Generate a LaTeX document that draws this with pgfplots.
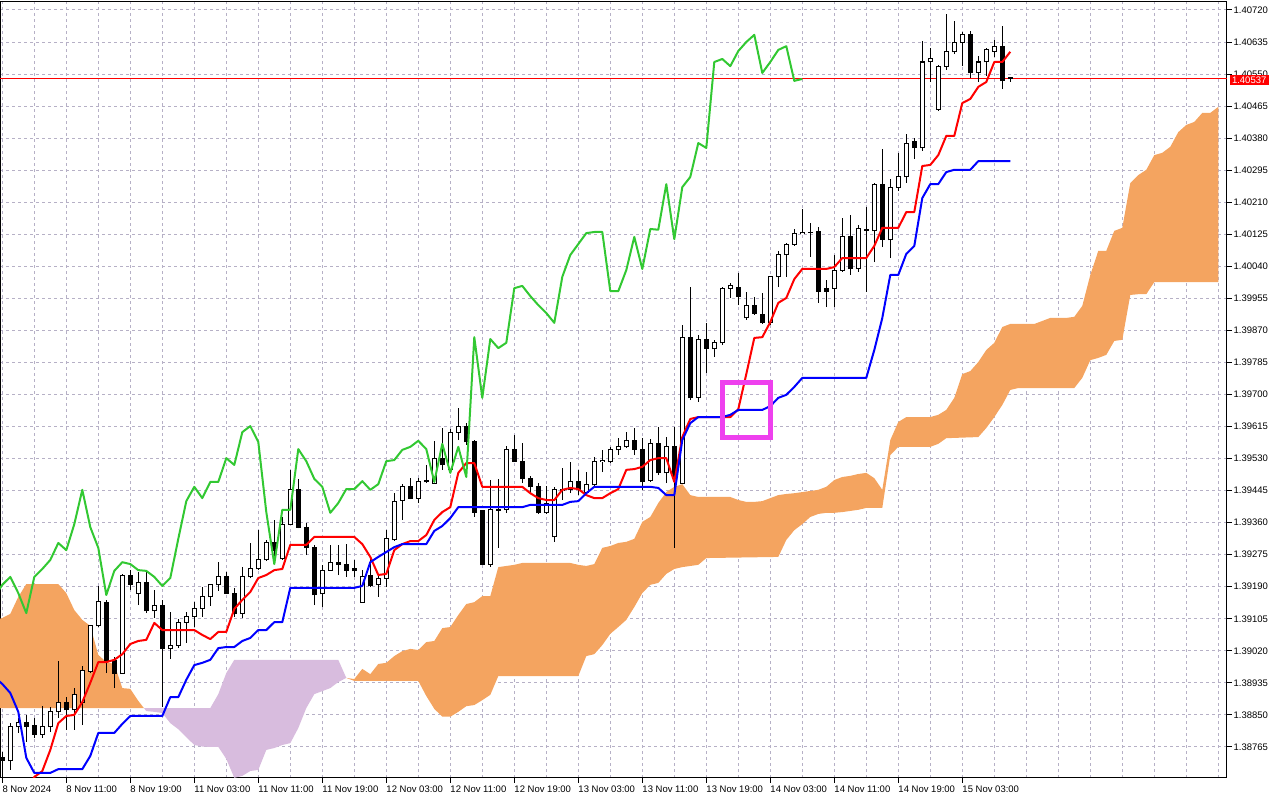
\documentclass[border=0pt]{standalone}
\usepackage{fontspec}
\setmainfont{Liberation Sans}
\usepackage{pgfplots}
\pgfplotsset{compat=1.18}
\usepackage{pgfplotstable}
\usepgfplotslibrary{fillbetween}
\definecolor{kumoup}{RGB}{244,164,96}
\definecolor{kumodn}{RGB}{216,188,222}
\definecolor{gridc}{RGB}{182,176,198}
\definecolor{chik}{RGB}{50,200,50}
\definecolor{boxc}{RGB}{238,64,238}
\pgfplotstableread{
i o h l c
0 1.38738 1.38752 1.38682 1.38728
1 1.38728 1.38828 1.38704 1.38818
2 1.38818 1.38842 1.38802 1.38831
3 1.38831 1.38850 1.38778 1.38820
4 1.38823 1.38842 1.38789 1.38799
5 1.38799 1.38873 1.38789 1.38820
6 1.38818 1.38871 1.38804 1.38858
7 1.38858 1.38993 1.38842 1.38884
8 1.38884 1.38897 1.38810 1.38863
9 1.38863 1.38921 1.38810 1.38905
10 1.38884 1.38980 1.38823 1.38969
11 1.38966 1.39088 1.38961 1.39086
12 1.39086 1.39192 1.39083 1.39152
13 1.39149 1.39155 1.38961 1.38993
14 1.38993 1.39004 1.38921 1.38961
15 1.38961 1.39223 1.38958 1.39221
16 1.39221 1.39234 1.39181 1.39197
17 1.39173 1.39229 1.39141 1.39200
18 1.39200 1.39229 1.39120 1.39126
19 1.39126 1.39181 1.39107 1.39141
20 1.39141 1.39155 1.38871 1.39025
21 1.39025 1.39123 1.38998 1.39035
22 1.39035 1.39104 1.39027 1.39096
23 1.39096 1.39123 1.39041 1.39110
24 1.39110 1.39149 1.39083 1.39133
25 1.39133 1.39189 1.39110 1.39163
26 1.39163 1.39197 1.39139 1.39195
27 1.39195 1.39255 1.39179 1.39216
28 1.39216 1.39229 1.39170 1.39173
29 1.39173 1.39187 1.39110 1.39120
30 1.39120 1.39242 1.39107 1.39216
31 1.39216 1.39306 1.39213 1.39237
32 1.39237 1.39340 1.39234 1.39261
33 1.39261 1.39314 1.39258 1.39306
34 1.39306 1.39367 1.39261 1.39287
35 1.39264 1.39375 1.39261 1.39356
36 1.39356 1.39500 1.39354 1.39447
37 1.39447 1.39476 1.39345 1.39348
38 1.39348 1.39359 1.39274 1.39293
39 1.39293 1.39301 1.39141 1.39168
40 1.39171 1.39248 1.39136 1.39232
41 1.39234 1.39301 1.39232 1.39255
42 1.39255 1.39301 1.39221 1.39250
43 1.39250 1.39303 1.39216 1.39234
44 1.39237 1.39261 1.39216 1.39232
45 1.39149 1.39234 1.39147 1.39216
46 1.39221 1.39269 1.39189 1.39192
47 1.39197 1.39221 1.39163 1.39213
48 1.39213 1.39340 1.39189 1.39317
49 1.39314 1.39438 1.39312 1.39417
50 1.39420 1.39462 1.39367 1.39455
51 1.39455 1.39478 1.39422 1.39425
52 1.39425 1.39478 1.39412 1.39468
53 1.39473 1.39513 1.39465 1.39468
54 1.39465 1.39577 1.39463 1.39531
55 1.39531 1.39611 1.39500 1.39513
56 1.39500 1.39608 1.39498 1.39600
57 1.39600 1.39664 1.39579 1.39616
58 1.39616 1.39624 1.39566 1.39574
59 1.39574 1.39579 1.39375 1.39388
60 1.39391 1.39393 1.39248 1.39250
61 1.39250 1.39473 1.39242 1.39394
62 1.39393 1.39476 1.39293 1.39394
63 1.39396 1.39563 1.39386 1.39555
64 1.39555 1.39592 1.39521 1.39523
65 1.39523 1.39571 1.39465 1.39476
66 1.39478 1.39484 1.39438 1.39455
67 1.39455 1.39465 1.39384 1.39386
68 1.39386 1.39457 1.39384 1.39412
69 1.39322 1.39455 1.39309 1.39449
70 1.39446 1.39505 1.39420 1.39449
71 1.39447 1.39521 1.39438 1.39470
72 1.39470 1.39500 1.39433 1.39447
73 1.39441 1.39494 1.39438 1.39462
74 1.39460 1.39534 1.39452 1.39523
75 1.39523 1.39553 1.39494 1.39526
76 1.39521 1.39561 1.39519 1.39553
77 1.39553 1.39584 1.39539 1.39561
78 1.39561 1.39600 1.39558 1.39577
79 1.39579 1.39611 1.39539 1.39555
80 1.39555 1.39584 1.39447 1.39468
81 1.39473 1.39582 1.39468 1.39569
82 1.39569 1.39614 1.39486 1.39492
83 1.39492 1.39587 1.39465 1.39561
84 1.39561 1.39614 1.39293 1.39481
85 1.39465 1.39884 1.39462 1.39852
86 1.39852 1.39985 1.39685 1.39691
87 1.39693 1.39858 1.39680 1.39847
88 1.39847 1.39890 1.39757 1.39823
89 1.39821 1.39845 1.39799 1.39837
90 1.39837 1.39984 1.39831 1.39982
91 1.39982 1.39996 1.39956 1.39988
92 1.39985 1.40022 1.39937 1.39961
93 1.39903 1.39972 1.39898 1.39937
94 1.39937 1.39959 1.39911 1.39916
95 1.39913 1.39969 1.39887 1.39890
96 1.39890 1.40014 1.39884 1.40012
97 1.40012 1.40081 1.39985 1.40070
98 1.40070 1.40102 1.40012 1.40099
99 1.40099 1.40139 1.40094 1.40128
100 1.40128 1.40192 1.40126 1.40131
101 1.40130 1.40155 1.40065 1.40131
102 1.40131 1.40144 1.39943 1.39974
103 1.39980 1.40004 1.39932 1.39974
104 1.39982 1.40070 1.39932 1.40030
105 1.40030 1.40168 1.40025 1.40118
106 1.40118 1.40176 1.40017 1.40033
107 1.40033 1.40150 1.40025 1.40139
108 1.40136 1.40197 1.39972 1.40137
109 1.40134 1.40261 1.40051 1.40258
110 1.40258 1.40351 1.40091 1.40112
111 1.40110 1.40272 1.40062 1.40250
112 1.40250 1.40340 1.40240 1.40277
113 1.40277 1.40391 1.40261 1.40367
114 1.40370 1.40380 1.40325 1.40354
115 1.40354 1.40638 1.40346 1.40582
116 1.40582 1.40619 1.40529 1.40590
117 1.40457 1.40573 1.40452 1.40571
118 1.40571 1.40709 1.40561 1.40611
119 1.40609 1.40691 1.40603 1.40635
120 1.40635 1.40662 1.40571 1.40654
121 1.40656 1.40664 1.40540 1.40553
122 1.40555 1.40598 1.40529 1.40582
123 1.40582 1.40619 1.40545 1.40614
124 1.40611 1.40640 1.40595 1.40624
125 1.40624 1.40677 1.40510 1.40532
126 1.40540 1.40542 1.40530 1.40537
}\candles
\begin{document}
\begin{tikzpicture}
\begin{axis}[
  at={(0pt,22pt)}, anchor=south west,
  scale only axis, width=1227pt, height=776pt,
  xmin=-0.2875, xmax=153.0875,
  ymin=1.386825, ymax=1.407412,
  axis line style={black, line width=1pt},
  xtick={0,8,...,120},
  xticklabels={8 Nov 2024,8 Nov 11:00,8 Nov 19:00,11 Nov 03:00,11 Nov 11:00,11 Nov 19:00,12 Nov 03:00,12 Nov 11:00,12 Nov 19:00,13 Nov 03:00,13 Nov 11:00,13 Nov 19:00,14 Nov 03:00,14 Nov 11:00,14 Nov 19:00,15 Nov 03:00},
  minor xtick={0,4,...,152},
  xmajorgrids=false, xminorgrids=true, ymajorgrids=true,
  grid style={gridc, line width=1pt, dash pattern=on 3pt off 3pt},
  minor grid style={gridc, line width=1pt, dash pattern=on 3pt off 3pt},
  ytick={1.38765,1.38850,1.38935,1.39020,1.39105,1.39190,1.39275,1.39360,1.39445,1.39530,1.39615,1.39700,1.39785,1.39870,1.39955,1.40040,1.40125,1.40210,1.40295,1.40380,1.40465,1.40550,1.40635,1.40720},
  yticklabels={1.38765,1.38850,1.38935,1.39020,1.39105,1.39190,1.39275,1.39360,1.39445,1.39530,1.39615,1.39700,1.39785,1.39870,1.39955,1.40040,1.40125,1.40210,1.40295,1.40380,1.40465,1.40550,1.40635,1.40720},
  xtick pos=left, ytick pos=right, yticklabel pos=right,
  tick align=outside, major tick length=5pt, minor tick length=0pt,
  major tick style={black, line width=1pt},
  xticklabel style={anchor=north west, inner sep=0pt, yshift=-3pt, font=\fontsize{9.5}{11}\selectfont},
  yticklabel style={anchor=west, inner sep=0pt, xshift=1.5pt, font=\fontsize{9.5}{11}\selectfont},
]
% ---- Ichimoku cloud: Senkou Span A and B
\addplot[draw=none, name path=A, forget plot] coordinates {
(-1,1.39100) (0,1.39107) (1,1.39118) (2,1.39163) (3,1.39197) (7,1.39197) (8,1.39173) (9,1.39128) (10,1.39102) (11,1.39086) (12,1.39009) (13,1.38990) (14,1.38985) (15,1.38921) (16,1.38919) (17,1.38887) (18,1.38860) (19,1.38858) (20,1.38855) (21,1.38828) (22,1.38812) (23,1.38791) (24,1.38770) (25,1.38766) (26,1.38765) (27,1.38765) (28,1.38733) (29,1.38683) (30,1.38688) (31,1.38701) (32,1.38704) (33,1.38757) (34,1.38762) (35,1.38770) (36,1.38775) (37,1.38815) (38,1.38868) (39,1.38905) (40,1.38913) (41,1.38921) (42,1.38937) (43,1.38948) (44,1.38945) (45,1.38972) (46,1.38958) (47,1.38985) (48,1.38988) (49,1.39006) (50,1.39019) (51,1.39025) (52,1.39022) (53,1.39043) (54,1.39046) (55,1.39080) (56,1.39083) (57,1.39115) (58,1.39144) (59,1.39149) (60,1.39165) (61,1.39165) (62,1.39242) (63,1.39245) (64,1.39248) (65,1.39253) (71,1.39253) (72,1.39248) (73,1.39245) (74,1.39250) (75,1.39293) (76,1.39298) (77,1.39306) (78,1.39309) (79,1.39317) (80,1.39362) (81,1.39375) (82,1.39412) (83,1.39441) (84,1.39455) (85,1.39462) (86,1.39433) (87,1.39428) (91,1.39428) (92,1.39420) (93,1.39415) (94,1.39415) (95,1.39417) (96,1.39425) (97,1.39433) (98,1.39436) (99,1.39438) (100,1.39441) (101,1.39444) (102,1.39447) (103,1.39455) (104,1.39473) (105,1.39481) (106,1.39484) (107,1.39489) (108,1.39492) (109,1.39478) (110,1.39447) (111,1.39579) (112,1.39627) (113,1.39640) (116,1.39640) (117,1.39646) (118,1.39659) (119,1.39691) (120,1.39754) (121,1.39762) (122,1.39786) (123,1.39818) (124,1.39837) (125,1.39879) (126,1.39887) (129,1.39887) (130,1.39895) (131,1.39903) (133,1.39903) (134,1.39906) (135,1.39935) (136,1.40017) (137,1.40081) (138,1.40081) (139,1.40134) (140,1.40142) (141,1.40261) (142,1.40282) (143,1.40296) (144,1.40335) (145,1.40341) (146,1.40357) (147,1.40396) (148,1.40415) (149,1.40423) (150,1.40447) (151,1.40447) (152,1.40463)
};
\addplot[draw=none, name path=B, forget plot] coordinates {
(-1,1.38868) (26,1.38868) (27,1.38905) (28,1.38961) (29,1.38996) (42,1.38996) (43,1.38948) (44,1.38940) (52,1.38940) (53,1.38900) (54,1.38866) (55,1.38845) (56,1.38845) (57,1.38858) (58,1.38873) (59,1.38876) (60,1.38889) (61,1.38903) (62,1.38953) (72,1.38953) (73,1.39006) (74,1.39011) (75,1.39035) (76,1.39065) (77,1.39083) (78,1.39102) (79,1.39136) (80,1.39173) (81,1.39195) (82,1.39200) (83,1.39224) (84,1.39237) (85,1.39242) (86,1.39245) (87,1.39248) (88,1.39266) (97,1.39269) (98,1.39314) (99,1.39340) (100,1.39356) (101,1.39375) (102,1.39383) (103,1.39386) (104,1.39386) (105,1.39388) (106,1.39391) (107,1.39394) (108,1.39399) (110,1.39399) (111,1.39539) (112,1.39561) (116,1.39561) (117,1.39569) (118,1.39584) (122,1.39587) (123,1.39611) (124,1.39640) (125,1.39672) (126,1.39712) (127,1.39717) (134,1.39717) (135,1.39744) (136,1.39791) (137,1.39797) (138,1.39805) (139,1.39842) (140,1.39845) (141,1.39964) (142,1.39966) (143,1.39966) (144,1.39998) (152,1.39998)
};
\addplot[fill=kumoup, draw=none, forget plot] fill between[of=A and B, soft clip={(axis cs:-1,1.3860) rectangle (axis cs:17.7,1.4080)}];
\addplot[fill=kumodn, draw=none, forget plot] fill between[of=A and B, soft clip={(axis cs:17.7,1.3860) rectangle (axis cs:43,1.4080)}];
\addplot[fill=kumoup, draw=none, forget plot] fill between[of=A and B, soft clip={(axis cs:43,1.3860) rectangle (axis cs:153,1.4080)}];
% ---- current price line
\addplot[red, line width=1pt, forget plot] coordinates {(-1,1.40537) (154,1.40537)};
% ---- candles: wicks
\addplot[draw=none, no markers, forget plot,
  error bars/.cd, y dir=plus, y explicit, error mark=none,
  error bar style={draw=black, line width=1pt}]
  table[x=i, y=l, y error plus expr={\thisrow{h}-\thisrow{l}}] {\candles};
% ---- candles: bodies (outline / bearish fill)
\addplot[draw=none, no markers, forget plot,
  error bars/.cd, y dir=plus, y explicit, error mark=none,
  error bar style={draw=black, line width=5pt, shorten <=-0.5pt, shorten >=-0.5pt}]
  table[x=i, y expr={min(\thisrow{o},\thisrow{c})}, y error plus expr={abs(\thisrow{c}-\thisrow{o})}] {\candles};
% ---- candles: bullish white interior (zero length for bearish bars)
\addplot[draw=none, no markers, forget plot,
  error bars/.cd, y dir=plus, y explicit, error mark=none,
  error bar style={draw=white, line width=3pt}]
  table[x=i, y expr={\thisrow{o}+0.0000133}, y error plus expr={max(\thisrow{c}-\thisrow{o}-0.0000266,0)}] {\candles};
% ---- Tenkan-sen
\addplot[red, line width=2pt, line join=round] coordinates {
(3,1.38650) (4,1.38685) (5,1.38701) (6,1.38757) (7,1.38828) (8,1.38847) (9,1.38850) (10,1.38884) (11,1.38935) (12,1.38990) (13,1.38990) (14,1.38996) (15,1.39011) (16,1.39038) (17,1.39046) (18,1.39049) (19,1.39094) (20,1.39075) (24,1.39075) (25,1.39062) (26,1.39051) (27,1.39070) (28,1.39070) (29,1.39131) (30,1.39155) (31,1.39176) (32,1.39213) (33,1.39221) (34,1.39234) (35,1.39237) (36,1.39301) (38,1.39301) (39,1.39322) (44,1.39322) (45,1.39303) (46,1.39269) (47,1.39221) (48,1.39224) (49,1.39287) (50,1.39303) (51,1.39311) (52,1.39311) (53,1.39327) (54,1.39367) (55,1.39388) (56,1.39401) (57,1.39492) (58,1.39518) (59,1.39518) (60,1.39455) (65,1.39455) (66,1.39438) (67,1.39425) (68,1.39420) (69,1.39420) (70,1.39447) (71,1.39452) (72,1.39449) (73,1.39433) (74,1.39425) (75,1.39425) (76,1.39438) (77,1.39449) (78,1.39500) (79,1.39502) (80,1.39508) (81,1.39526) (82,1.39531) (83,1.39531) (84,1.39468) (85,1.39587) (86,1.39635) (87,1.39640) (91,1.39640) (92,1.39661) (93,1.39754) (94,1.39850) (95,1.39852) (96,1.39892) (97,1.39943) (98,1.39956) (99,1.40006) (100,1.40033) (103,1.40033) (104,1.40038) (105,1.40062) (108,1.40062) (109,1.40094) (110,1.40142) (112,1.40142) (113,1.40184) (114,1.40184) (115,1.40306) (116,1.40309) (117,1.40335) (118,1.40386) (119,1.40386) (120,1.40473) (121,1.40484) (122,1.40516) (123,1.40529) (124,1.40582) (125,1.40582) (126,1.40609)
};
% ---- Kijun-sen
\addplot[blue, line width=2pt, line join=round] coordinates {
(-1,1.38950) (0,1.38932) (1,1.38908) (2,1.38858) (3,1.38736) (4,1.38696) (6,1.38696) (7,1.38706) (10,1.38706) (11,1.38741) (12,1.38802) (14,1.38802) (15,1.38826) (16,1.38847) (20,1.38847) (21,1.38897) (22,1.38897) (23,1.38943) (24,1.38982) (25,1.38988) (26,1.38996) (27,1.39027) (28,1.39030) (29,1.39030) (30,1.39046) (31,1.39054) (32,1.39075) (33,1.39075) (34,1.39096) (35,1.39096) (36,1.39187) (44,1.39187) (45,1.39192) (46,1.39255) (47,1.39269) (48,1.39282) (49,1.39295) (50,1.39303) (53,1.39303) (54,1.39338) (55,1.39351) (56,1.39372) (57,1.39401) (65,1.39401) (66,1.39407) (70,1.39407) (71,1.39415) (72,1.39417) (73,1.39438) (74,1.39455) (81,1.39455) (82,1.39452) (83,1.39433) (84,1.39433) (85,1.39579) (86,1.39624) (87,1.39640) (90,1.39640) (91,1.39646) (92,1.39659) (95,1.39659) (96,1.39669) (97,1.39691) (98,1.39699) (99,1.39720) (100,1.39744) (108,1.39744) (109,1.39818) (110,1.39903) (111,1.40017) (112,1.40017) (113,1.40073) (114,1.40094) (115,1.40221) (116,1.40258) (117,1.40258) (118,1.40290) (119,1.40296) (121,1.40296) (122,1.40319) (126,1.40319)
};
% ---- Chikou span (close shifted 26 bars back)
\addplot[chik, line width=2pt, line join=round] coordinates {
(-1,1.39163) (0,1.39195) (1,1.39216) (2,1.39173) (3,1.39120) (4,1.39216) (5,1.39237) (6,1.39261) (7,1.39306) (8,1.39287) (9,1.39356) (10,1.39447) (11,1.39348) (12,1.39293) (13,1.39168) (14,1.39232) (15,1.39255) (16,1.39250) (17,1.39234) (18,1.39232) (19,1.39216) (20,1.39192) (21,1.39213) (22,1.39317) (23,1.39417) (24,1.39455) (25,1.39425) (26,1.39468) (27,1.39468) (28,1.39531) (29,1.39513) (30,1.39600) (31,1.39616) (32,1.39574) (33,1.39388) (34,1.39250) (35,1.39394) (36,1.39394) (37,1.39555) (38,1.39523) (39,1.39476) (40,1.39455) (41,1.39386) (42,1.39412) (43,1.39449) (44,1.39449) (45,1.39470) (46,1.39447) (47,1.39462) (48,1.39523) (49,1.39526) (50,1.39553) (51,1.39561) (52,1.39577) (53,1.39555) (54,1.39468) (55,1.39569) (56,1.39492) (57,1.39561) (58,1.39481) (59,1.39852) (60,1.39691) (61,1.39847) (62,1.39823) (63,1.39837) (64,1.39982) (65,1.39988) (66,1.39961) (67,1.39937) (68,1.39916) (69,1.39890) (70,1.40012) (71,1.40070) (72,1.40099) (73,1.40128) (74,1.40131) (75,1.40131) (76,1.39974) (77,1.39974) (78,1.40030) (79,1.40118) (80,1.40033) (81,1.40139) (82,1.40137) (83,1.40258) (84,1.40112) (85,1.40250) (86,1.40277) (87,1.40367) (88,1.40354) (89,1.40582) (90,1.40590) (91,1.40571) (92,1.40611) (93,1.40635) (94,1.40654) (95,1.40553) (96,1.40582) (97,1.40614) (98,1.40624) (99,1.40532) (100,1.40537)
};
% ---- highlight rectangle
\draw[boxc, line width=5pt] (axis cs:90.03,1.39732) rectangle (axis cs:95.99,1.39586);
\coordinate (pl) at (axis cs:153.0875,1.40537);
\end{axis}
\node[fill=red, text=white, anchor=west, inner sep=0pt, minimum height=9.5pt, minimum width=39pt, font=\fontsize{9.5}{11}\selectfont] at ([xshift=2.5pt, yshift=-1pt]pl) {1.40537};
\pgfresetboundingbox
\useasboundingbox (0,0) rectangle (1280pt,800pt);
\end{tikzpicture}
\end{document}
